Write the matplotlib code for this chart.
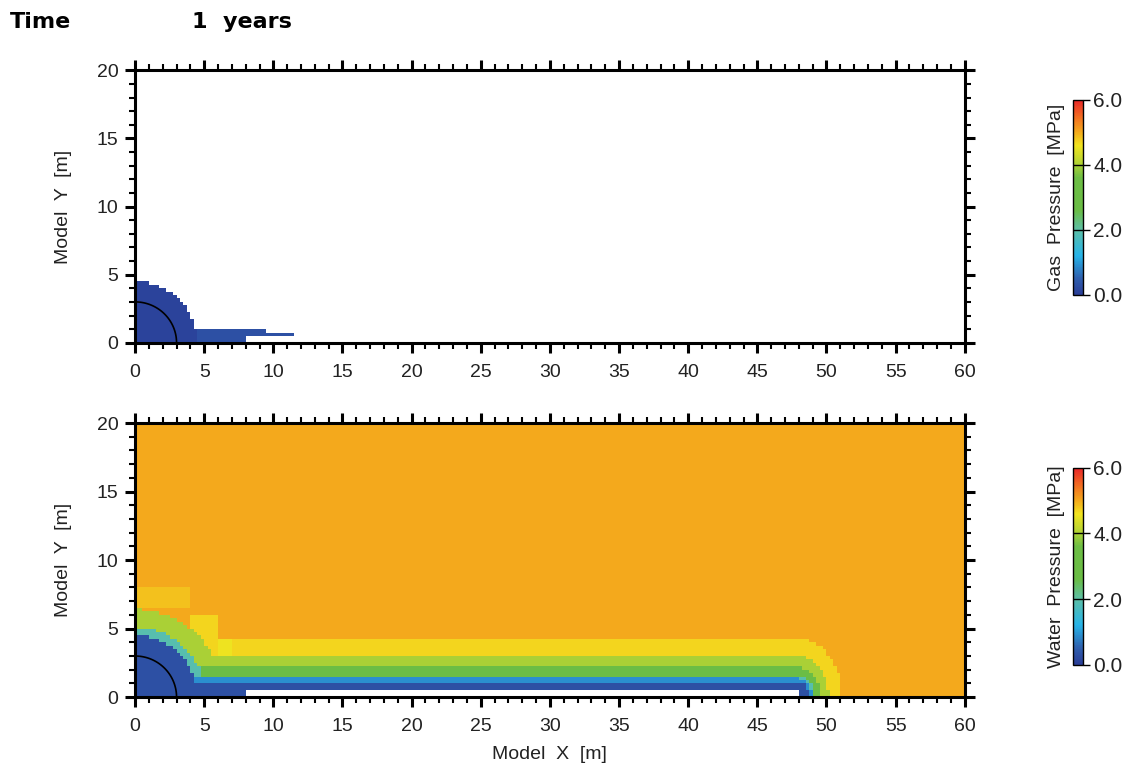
import numpy as np
import matplotlib.pyplot as plt
from matplotlib.colors import LinearSegmentedColormap
from matplotlib.ticker import MultipleLocator
from matplotlib.cm import ScalarMappable
from matplotlib.colors import Normalize

plt.rcParams['font.family'] = ['Liberation Sans', 'DejaVu Sans']

# pressure colour scale [MPa]
scale_levels = [0.0, 0.5, 1.2, 2.0, 2.6, 3.6, 4.1, 4.6, 5.0, 5.5, 6.0]
scale_colors = ['#2a3d96', '#2f5fae', '#27b4e8', '#5dbfa6', '#6abd45', '#6dbe45',
                '#b9d532', '#f2e41f', '#f4ab1c', '#f26a22', '#e8262a']

# excavation geometry [m]
tunnel_radius = 3.0
gallery_end = 47.9
gallery_top = 0.5
gallery_void_start = 8.0

# water pressure bands, from drained to undisturbed
band_pressure = [0.3, 0.9, 1.9, 3.0, 4.0, 4.7, 5.0]
ring_limits = [4.5, 4.5, 5.1, 5.1, 6.4, 6.4]      # radius where each band stops
strip_limits = [1.1, 1.4, 1.6, 2.2, 3.0, 4.3]     # height where each band stops
end_stretch = 0.75

# coarse mesh cells with their own pressure
block_x0 = [0.0, 4.0, 6.0]
block_x1 = [4.0, 6.0, 7.0]
block_y0 = [6.4, 3.5, 2.8]
block_y1 = [8.0, 6.0, 4.3]
block_p = [4.83, 4.7, 4.55]

# gas phase
gas_ring_p = 0.1
gas_strip_p = 0.3
gas_radius = 4.5
gas_seg_x0 = [0.0, 8.0, 9.6, 47.9]
gas_seg_x1 = [8.0, 9.6, 11.5, 48.1]
gas_seg_y0 = [0.0, 0.5, 0.5, 0.0]
gas_seg_y1 = [1.0, 1.0, 0.75, 0.6]

cmap = LinearSegmentedColormap.from_list(
    'pres', list(zip(np.array(scale_levels) / 6.0, scale_colors)))
cmap.set_bad('white')

xe = np.arange(0, 60.001, 0.25)
ye = np.arange(0, 20.001, 0.25)
X, Y = np.meshgrid((xe[:-1] + xe[1:]) / 2, (ye[:-1] + ye[1:]) / 2)
R = np.hypot(X, Y)

# water pressure field
ring_idx = np.searchsorted(ring_limits, R, side='right')
d_strip = np.hypot(np.clip(X - gallery_end, 0, None) / end_stretch, Y)
strip_idx = np.searchsorted(strip_limits, d_strip, side='right')
water = np.array(band_pressure)[np.minimum(ring_idx, strip_idx)]
for x0, x1, y0, y1, p in zip(block_x0, block_x1, block_y0, block_y1, block_p):
    inside = (X >= x0) & (X < x1) & (Y >= y0) & (Y < y1)
    water = np.where(inside, np.minimum(water, p), water)
void = (X > gallery_void_start) & (X < gallery_end) & (Y < gallery_top)
water[void] = np.nan

# gas pressure field
gas = np.full(X.shape, np.nan)
gas[R < gas_radius] = gas_ring_p
for x0, x1, y0, y1 in zip(gas_seg_x0, gas_seg_x1, gas_seg_y0, gas_seg_y1):
    inside = (X >= x0) & (X < x1) & (Y >= y0) & (Y < y1) & np.isnan(gas)
    gas[inside] = gas_strip_p

fig = plt.figure(figsize=(11.35, 7.72), dpi=100)
ax_gas = fig.add_axes([0.119, 0.556, 0.731, 0.353])
ax_wat = fig.add_axes([0.119, 0.097, 0.731, 0.355])
cax_gas = fig.add_axes([0.9455, 0.618, 0.009, 0.253])
cax_wat = fig.add_axes([0.9455, 0.139, 0.009, 0.255])

theta = np.linspace(0, np.pi / 2, 100)
for ax, field in [(ax_gas, gas), (ax_wat, water)]:
    ax.pcolormesh(xe, ye, np.ma.masked_invalid(field), cmap=cmap, vmin=0, vmax=6)
    ax.plot(tunnel_radius * np.cos(theta), tunnel_radius * np.sin(theta),
            color='black', lw=1.2)
    ax.set_xlim(0, 60)
    ax.set_ylim(0, 20)
    ax.xaxis.set_major_locator(MultipleLocator(5))
    ax.xaxis.set_minor_locator(MultipleLocator(1))
    ax.yaxis.set_major_locator(MultipleLocator(5))
    ax.yaxis.set_minor_locator(MultipleLocator(1))
    ax.tick_params(which='both', direction='out', top=True, right=True,
                   labelsize=14, color='black', labelcolor='#222222')
    ax.tick_params(which='major', length=7, width=2.2, pad=5)
    ax.tick_params(axis='x', which='major', pad=8)
    ax.tick_params(which='minor', length=4, width=1.5)
    for sp in ax.spines.values():
        sp.set_linewidth(2.2)
    ax.set_ylabel('Model  Y  [m]', fontsize=14, color='#222222', labelpad=18)

ax_wat.set_xlabel('Model  X  [m]', fontsize=14, color='#222222', labelpad=8)

for cax, label in [(cax_gas, 'Gas  Pressure  [MPa]'), (cax_wat, 'Water  Pressure  [MPa]')]:
    cb = fig.colorbar(ScalarMappable(Normalize(0, 6), cmap), cax=cax)
    cb.set_ticks([0, 2, 4, 6])
    cb.set_ticklabels(['0.0', '2.0', '4.0', '6.0'])
    cb.outline.set_linewidth(1.0)
    for v in [2, 4]:
        cax.axhline(v, color='black', lw=1.0)
    cax.tick_params(length=5, width=1.0, labelsize=15, pad=2, labelcolor='#222222')
    cax.yaxis.set_label_position('left')
    cax.set_ylabel(label, fontsize=14, color='#222222', labelpad=6)

fig.text(0.009, 1 - 22 / 772, 'Time', fontsize=16, fontweight='bold', va='center',
         family='DejaVu Sans')
fig.text(0.169, 1 - 22 / 772, '1  years', fontsize=16, fontweight='bold', va='center',
         family='DejaVu Sans')

fig.savefig('out.png', dpi=100)
